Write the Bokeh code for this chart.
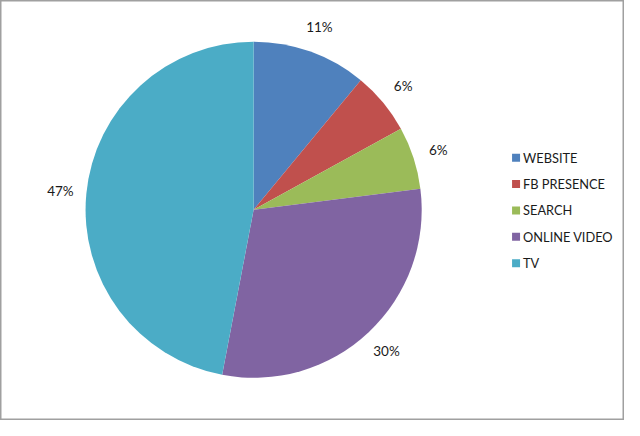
import math
from bokeh.plotting import figure
from bokeh.models import Range1d
from bokeh.core.properties import value
from bokeh.embed import file_html
from bokeh.resources import INLINE

categories = ["WEBSITE", "FB PRESENCE", "SEARCH", "ONLINE VIDEO", "TV"]
values = [11, 6, 6, 30, 47]
labels = ["11%", "6%", "6%", "30%", "47%"]
colors = ["#4F81BD", "#C0504D", "#9BBB59", "#8064A2", "#4BACC6"]

W, H = 624, 420
S = 0.98  # scale from reference pixels

def fx(x):
    return (x - 1) * S

def fy(y):
    return H - (y - 1) * 0.97

p = figure(width=W, height=H, output_backend="svg", toolbar_location=None,
           x_range=Range1d(0, W), y_range=Range1d(0, H), min_border=0)
p.axis.visible = False
p.grid.visible = False
p.outline_line_color = "#A0A0A0"
p.outline_line_width = 2
p.background_fill_color = "white"
p.border_fill_color = "white"

cx, cy = fx(259.3), fy(216.7)
R = 171.5 * S
total = sum(values)

starts, ends, lx, ly = [], [], [], []
cum = 0.0
for v in values:
    a0 = math.pi / 2 - 2 * math.pi * cum / total
    a1 = math.pi / 2 - 2 * math.pi * (cum + v) / total
    starts.append(a1)
    ends.append(a0)
    mid = (a0 + a1) / 2
    lr = R + 26
    lx.append(cx + lr * math.cos(mid))
    ly.append(cy + lr * math.sin(mid))
    cum += v

p.wedge(x=[cx] * len(values), y=[cy] * len(values), radius=R,
        start_angle=starts, end_angle=ends, direction="anticlock",
        fill_color=colors, line_color=None)

p.text(x=lx, y=ly, text=labels, text_align="center", text_baseline="middle",
       text_font=value("Lato"), text_font_size="13.5px", text_color="#1a1a1a")

# legend
lg_x = fx(523)
lg_y0 = fy(163)
step = 26.4
ys = [lg_y0 - i * step for i in range(len(categories))]
p.rect(x=[lg_x + 4] * len(categories), y=ys, width=8, height=8,
       fill_color=colors, line_color=None)
p.text(x=[lg_x + 11] * len(categories), y=ys, text=categories,
       text_align="left", text_baseline="middle",
       text_font=value("Lato"), text_font_size="12.8px", text_color="#1a1a1a")

open("out.html", "w").write(file_html(p, INLINE))
